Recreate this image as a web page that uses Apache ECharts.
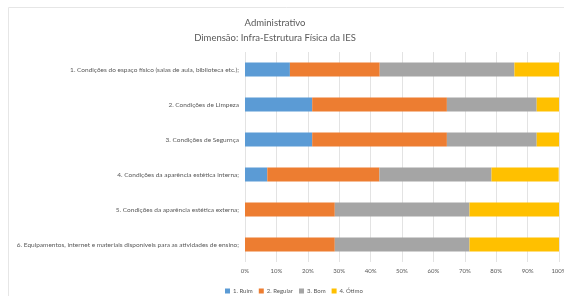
<!DOCTYPE html>
<html>
<head>
<meta charset="utf-8">
<script src="https://cdn.jsdelivr.net/npm/echarts@6/dist/echarts.min.js"></script>
<style>
  html, body { margin: 0; padding: 0; background: #fff; }
  #chart { width: 564px; height: 296px; }
</style>
</head>
<body>
<div id="chart"></div>
<script>
var categorias = [
    '1. Condições do espaço físico (salas de aula, biblioteca etc.);',
    '2. Condições de Limpeza',
    '3. Condições de Segurnça',
    '4. Condições da aparência estética interna;',
    '5. Condições da aparência estética externa;',
    '6. Equipamentos, internet e materiais disponíveis para as atividades de ensino;'
];
var ruim    = [14.3, 21.4, 21.4, 7.1, 0, 0];
var regular = [28.6, 42.9, 42.9, 35.7, 28.6, 28.6];
var bom     = [42.9, 28.6, 28.6, 35.7, 42.9, 42.9];
var otimo   = [14.3, 7.1, 7.1, 21.4, 28.6, 28.6];
var nomes = ['1. Ruim', '2. Regular', '3. Bom', '4. Ótimo'];
var cores = ['#5B9BD5', '#ED7D31', '#A5A5A5', '#FFC000'];

var myChart = echarts.init(document.getElementById('chart'));
var fonte = 'Lato, "Open Sans", sans-serif';

function serie(nome, dados) {
    return {
        name: nome,
        type: 'bar',
        stack: 'total',
        barWidth: 14,
        data: dados
    };
}

myChart.setOption({
    color: cores,
    animation: false,
    textStyle: { fontFamily: fonte },
    title: {
        text: 'Administrativo\nDimensão: Infra-Estrutura Física da IES',
        left: 270,
        textAlign: 'center',
        top: 10,
        textStyle: { fontSize: 9.5, fontWeight: 'normal', color: '#595959', lineHeight: 15, fontFamily: fonte }
    },
    legend: {
        data: nomes,
        left: 220,
        top: 283,
        itemWidth: 5,
        itemHeight: 5,
        itemGap: 6,
        icon: 'rect',
        textStyle: { fontSize: 6, color: '#595959', padding: [0, 0, 0, -2] }
    },
    grid: { left: 245, right: 5, top: 52, height: 210, outerBoundsMode: 'none' },
    xAxis: {
        type: 'value',
        min: 0,
        max: 100,
        interval: 10,
        axisLabel: { formatter: '{value}%', fontSize: 6, color: '#595959', margin: 6 },
        axisLine: { show: false },
        axisTick: { show: false },
        splitLine: { lineStyle: { color: '#e3e3e3', width: 1 } }
    },
    yAxis: {
        type: 'category',
        inverse: true,
        data: categorias,
        axisLabel: { fontSize: 6.5, color: '#595959', margin: 6 },
        axisLine: { show: false },
        axisTick: { show: false }
    },
    series: [
        serie(nomes[0], ruim),
        serie(nomes[1], regular),
        serie(nomes[2], bom),
        serie(nomes[3], otimo)
    ],
    graphic: [{
        type: 'rect',
        shape: { x: 8.5, y: 7.5, width: 560, height: 300 },
        style: { fill: 'none', stroke: '#e6e6e6', lineWidth: 1 },
        silent: true
    }]
});
</script>
</body>
</html>
